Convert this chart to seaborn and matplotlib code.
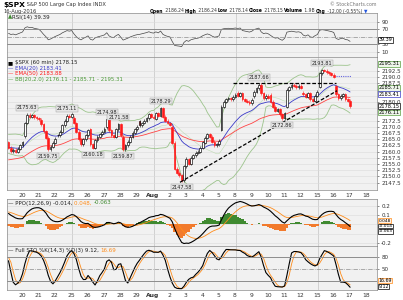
import numpy as np
import pandas as pd
import matplotlib
matplotlib.use("Agg")
import matplotlib.pyplot as plt
import matplotlib.transforms as mtransforms
import seaborn as sns

# 60 min bars, 7 per session. Jul 12-18 only warm up the indicators (left of view)
warmup_opens = [2139.5, 2153.8, 2157.2, 2165.1, 2162.0]
warmup_closes = [
    2145.0, 2148.0, 2150.0, 2151.0, 2152.0, 2153.0, 2152.1,
    2154.0, 2153.0, 2152.0, 2151.0, 2150.0, 2151.5, 2152.4,
    2160.0, 2162.0, 2163.0, 2162.5, 2163.0, 2164.0, 2163.8,
    2166.0, 2165.0, 2163.0, 2162.0, 2161.0, 2160.5, 2161.7,
    2161.0, 2160.0, 2162.0, 2164.0, 2165.0, 2166.0, 2166.9,
]

# visible sessions Jul 19 .. Aug 16
session_opens = [2163.79, 2166.10, 2172.91, 2166.47, 2173.71, 2168.97, 2169.81,
                 2166.05, 2172.15, 2173.15, 2169.94, 2156.81, 2163.51, 2168.79,
                 2183.76, 2182.24, 2182.81, 2177.97, 2183.74, 2186.08, 2186.24]
closes = [
    2161.5, 2160.2, 2160.8, 2160.0, 2161.2, 2162.5, 2163.8,  # Jul 19
    2171.5, 2174.8, 2174.0, 2174.6, 2173.8, 2173.4, 2173.0,  # Jul 20
    2171.0, 2168.2, 2165.5, 2161.0, 2162.0, 2163.5, 2165.2,  # Jul 21
    2166.5, 2168.0, 2170.5, 2172.5, 2174.5, 2174.0, 2175.0,  # Jul 22
    2171.5, 2168.0, 2165.0, 2163.0, 2165.0, 2166.5, 2168.5,  # Jul 25
    2163.0, 2161.5, 2164.5, 2166.0, 2167.0, 2168.0, 2169.2,  # Jul 26
    2173.0, 2168.5, 2166.5, 2166.0, 2169.0, 2171.0, 2166.6,  # Jul 27
    2161.0, 2162.5, 2164.0, 2166.0, 2167.5, 2169.0, 2170.0,  # Jul 28
    2170.5, 2171.5, 2172.5, 2173.5, 2175.0, 2174.0, 2173.6,  # Jul 29
    2175.5, 2174.5, 2177.5, 2174.0, 2172.5, 2171.5, 2170.8,  # Aug 1
    2163.5, 2153.0, 2151.5, 2150.5, 2148.5, 2154.0, 2157.0,  # Aug 2
    2155.0, 2157.5, 2158.5, 2159.5, 2160.0, 2161.5, 2163.8,  # Aug 3
    2165.5, 2167.0, 2166.0, 2164.0, 2162.5, 2163.0, 2164.3,  # Aug 4
    2178.0, 2180.0, 2181.0, 2181.5, 2181.0, 2182.0, 2182.9,  # Aug 5
    2182.5, 2183.5, 2181.0, 2180.5, 2180.0, 2179.5, 2180.9,  # Aug 8
    2184.0, 2185.5, 2187.0, 2183.5, 2181.5, 2182.5, 2181.7,  # Aug 9
    2180.0, 2178.0, 2176.5, 2177.0, 2175.0, 2173.5, 2175.5,  # Aug 10
    2185.0, 2186.0, 2187.0, 2186.5, 2186.0, 2186.5, 2185.8,  # Aug 11
    2183.0, 2182.0, 2183.5, 2181.0, 2180.5, 2182.5, 2184.0,  # Aug 12
    2191.5, 2192.8, 2192.5, 2192.0, 2191.5, 2191.0, 2190.2,  # Aug 15
    2183.0, 2181.5, 2182.5, 2183.0, 2181.0, 2180.5, 2178.2,  # Aug 16
]

date_ticks = ["20", "21", "22", "25", "26", "27", "28", "29", "Aug", "2", "3",
              "4", "5", "8", "9", "10", "11", "12", "15", "16", "17", "18"]
week_starts = [4, 9, 14, 19]  # sessions Jul 25, Aug 1, Aug 8, Aug 15

# swing high / low labels
note_bars = [8, 17, 25, 36, 42, 47, 49, 65, 74, 107, 117, 134]
note_text = ["2175.63", "2159.75", "2175.11", "2160.18", "2174.98", "2171.58",
             "2159.87", "2178.29", "2147.58", "2187.66", "2172.86", "2193.81"]
note_side = ["hi", "lo", "hi", "lo", "hi", "hi", "lo", "hi", "lo", "hi", "lo", "hi"]

# drawn lines
trend_x = [73.3, 140.4]
trend_y = [2147.6, 2184.5]
resist_x = [96, 140]
resist_y = [2187.66, 2187.66]
dotted_x = [140, 146.5]
dotted_y = [2190.3, 2190.3]

# last values as printed by the chart
spx_last = "2178.15"
ema20_last, ema50_last = "2183.41", "2183.88"
bb_last = ["2176.11", "2185.71", "2195.31"]
rsi_last = "39.39"
ppo_last = ["-0.014", "0.048", "-0.063"]
sto_last = ["9.12", "16.69"]

sns.set_style("white")
plt.rcParams["font.family"] = ["DejaVu Sans"]

RED = "#ff1a1a"
PANEL = "#f1f1f1"
GRID = "#dadada"
W, H = 403, 300

# assemble bars
n_warm = len(warmup_closes)
all_close = np.array(warmup_closes + closes)
day_open = warmup_opens + session_opens
opens = np.r_[all_close[0], all_close[:-1]].copy()
for d, o in enumerate(day_open):
    opens[d * 7] = o
highs = np.maximum(opens, all_close) + 0.6
lows = np.minimum(opens, all_close) - 0.6
xs = np.arange(len(all_close)) - n_warm

s = pd.Series(all_close)
ema20 = s.ewm(span=20, adjust=False).mean()
ema50 = s.ewm(span=50, adjust=False).mean()
bb_mid = s.rolling(20).mean()
bb_sd = s.rolling(20).std(ddof=0)
bb_up, bb_lo = bb_mid + 2 * bb_sd, bb_mid - 2 * bb_sd

delta = s.diff()
gain = delta.clip(lower=0).ewm(alpha=1 / 14, adjust=False).mean()
loss = (-delta.clip(upper=0)).ewm(alpha=1 / 14, adjust=False).mean()
rsi = 100 - 100 / (1 + gain / loss)

e12 = s.ewm(span=12, adjust=False).mean()
e26 = s.ewm(span=26, adjust=False).mean()
ppo = (e12 - e26) / e26 * 100
ppo_sig = ppo.ewm(span=9, adjust=False).mean()
ppo_hist = ppo - ppo_sig

hh = pd.Series(highs).rolling(14).max()
ll = pd.Series(lows).rolling(14).min()
fast_k = 100 * (s - ll) / (hh - ll)
full_k = fast_k.rolling(3).mean()
full_d = full_k.rolling(3).mean()

X0, X1 = -0.64, 157.5
tick_pos = [7 * (i + 1) - 1.2 for i in range(len(date_ticks))]

fig = plt.figure(figsize=(W / 100, H / 100), dpi=100)


def panel(top, bottom):
    return fig.add_axes([7 / W, 1 - bottom / H, 370 / W, (bottom - top) / H])


def style(ax, ylim, yticks, fmt, dates=False, grid_at=None):
    ax.set_facecolor(PANEL)
    ax.set_xlim(X0, X1)
    ax.set_ylim(*ylim)
    ax.yaxis.tick_right()
    ax.set_yticks(yticks)
    ax.set_yticklabels([fmt.format(v) for v in yticks])
    ax.tick_params(axis="y", length=1.5, width=0.4, pad=1.5, labelsize=4.1,
                   colors="#333333")
    ax.set_xticks(tick_pos)
    ax.set_xticklabels(date_ticks if dates else [])
    ax.tick_params(axis="x", length=0, pad=2.2, labelsize=4.3, colors="#333333")
    if dates:
        for lab in ax.get_xticklabels():
            if lab.get_text() == "Aug":
                lab.set_fontweight("bold")
    for g in (grid_at if grid_at is not None else yticks):
        ax.axhline(g, color=GRID, lw=0.4, zorder=0.6)
    for w in week_starts:
        ax.axvline(7 * w - 0.8, color="#c4c4c4", lw=0.5, zorder=0.5)
    for sp in ax.spines.values():
        sp.set_linewidth(0.5)
        sp.set_color("#8a8a8a")
    ax.set_xlabel("")
    ax.set_ylabel("")


def value_box(ax, y, txt, ec, fc="white", tc="black", size=3.7):
    tr = mtransforms.blended_transform_factory(ax.transAxes, ax.transData)
    ax.text(1.004, y, txt, transform=tr, fontsize=size, color=tc, va="center",
            ha="left", clip_on=False, zorder=10,
            bbox=dict(boxstyle="square,pad=0.06", fc=fc, ec=ec, lw=0.5))


renderer = fig.canvas.get_renderer()


def chain(x, y, pieces, size):
    for txt, color, weight, *fs in pieces:
        t = fig.text(x / W, 1 - y / H, txt, fontsize=fs[0] if fs else size,
                     color=color, fontweight=weight, va="center", ha="left")
        x += t.get_window_extent(renderer).width


vis = xs >= 0

# ---- RSI panel
ax_rsi = panel(13, 57)
sns.lineplot(x=xs[vis], y=rsi[vis].values, ax=ax_rsi, color="#444444", lw=0.5)
style(ax_rsi, (-4, 113), [10, 30, 70, 90], "{:.0f}", grid_at=[10, 90])
ax_rsi.axhline(70, color="#8c8c8c", lw=0.7)
ax_rsi.axhline(30, color="#8c8c8c", lw=0.7)
ax_rsi.axhline(50, color="#8c8c8c", lw=0.5, ls="-.")
value_box(ax_rsi, 41.5, rsi_last, "black", size=3.5)

# ---- price panel
ax = panel(57, 190)
o, c = opens[vis], all_close[vis]
prev = np.r_[all_close[n_warm - 1], c[:-1]]
edge = np.where(c >= prev, "black", RED)
fill = np.where(c >= o, "white", RED)
ax.vlines(xs[vis], lows[vis], highs[vis], colors=edge, lw=0.4, zorder=3)
ax.bar(xs[vis], np.maximum(np.abs(c - o), 0.25), bottom=np.minimum(o, c),
       width=0.75, color=fill, edgecolor=edge, linewidth=0.45, zorder=4)
sns.lineplot(x=xs[vis], y=bb_up[vis].values, ax=ax, color="#9cc48c", lw=0.6)
sns.lineplot(x=xs[vis], y=bb_lo[vis].values, ax=ax, color="#9cc48c", lw=0.6)
sns.lineplot(x=xs[vis], y=bb_mid[vis].values, ax=ax, color="#c0dcb4", lw=0.4)
sns.lineplot(x=xs[vis], y=ema50[vis].values, ax=ax, color="#ff4444", lw=0.6)
sns.lineplot(x=xs[vis], y=ema20[vis].values, ax=ax, color="#3a3ac8", lw=0.6)
ax.plot(trend_x, trend_y, color="black", lw=0.9, ls=(0, (3, 1.5)), zorder=5)
ax.plot(resist_x, resist_y, color="black", lw=0.9, ls=(0, (3, 1.5)), zorder=5)
ax.plot(dotted_x, dotted_y, color="#6666dd", lw=0.8, ls=(0, (1, 1)), zorder=5)
box_vals = [float(v) for v in bb_last + [ema20_last, spx_last]]
price_grid = list(np.arange(2147.5, 2195, 2.5))
price_ticks = [t for t in price_grid if min(abs(t - b) for b in box_vals) > 1.5]
style(ax, (2144.5, 2198.1), price_ticks, "{:.1f}", dates=True, grid_at=price_grid)
for b, txt, side in zip(note_bars, note_text, note_side):
    i = b + n_warm
    hi = side == "hi"
    ax.annotate(txt, (b, highs[i] if hi else lows[i]),
                xytext=(0, 2.2 if hi else -2.2), textcoords="offset points",
                ha="center", va="bottom" if hi else "top", fontsize=3.6,
                color="#222222", zorder=8,
                bbox=dict(boxstyle="square,pad=0.15", fc="#e6e6e6",
                          ec="#9a9a9a", lw=0.3))
value_box(ax, float(bb_last[2]), bb_last[2], "#5aa040", fc="#eef6ea")
value_box(ax, float(bb_last[1]), bb_last[1], "#5aa040", fc="#eef6ea")
value_box(ax, float(ema20_last) - 0.3, ema20_last, "#3a3ac8")
value_box(ax, float(bb_last[0]) - 0.3, bb_last[0], "#5aa040", fc="#eef6ea")
value_box(ax, float(spx_last) + 0.2, spx_last, "black")

# ---- PPO panel
ax_ppo = panel(199, 246)
hv = ppo_hist[vis].values
ax_ppo.bar(xs[vis], hv, width=1.0, color=np.where(hv >= 0, "#3f8a30", "#f27a2c"),
           linewidth=0, zorder=2)
sns.lineplot(x=xs[vis], y=ppo_sig[vis].values, ax=ax_ppo, color="#ff8c1a", lw=0.6)
sns.lineplot(x=xs[vis], y=ppo[vis].values, ax=ax_ppo, color="black", lw=0.8)
style(ax_ppo, (-0.233, 0.272), [-0.2, 0.1, 0.2], "{:.1f}",
      grid_at=[-0.2, -0.1, 0.0, 0.1, 0.2])
value_box(ax_ppo, 0.040, ppo_last[1], "#ff8c1a", fc="#fff1e4", size=3.2)
value_box(ax_ppo, -0.018, ppo_last[0], "black", size=3.2)
value_box(ax_ppo, -0.076, ppo_last[2], "black", size=3.2)

# ---- Full STO panel
ax_sto = panel(246, 290)
sns.lineplot(x=xs[vis], y=full_d[vis].values, ax=ax_sto, color="#ff8c1a", lw=0.6)
sns.lineplot(x=xs[vis], y=full_k[vis].values, ax=ax_sto, color="black", lw=0.8)
style(ax_sto, (-1.2, 106), [50, 80], "{:.0f}", dates=True, grid_at=[])
ax_sto.axhline(80, color="#8c8c8c", lw=0.7)
ax_sto.axhline(20, color="#8c8c8c", lw=0.7)
ax_sto.axhline(50, color="#8c8c8c", lw=0.5, ls="-.")
value_box(ax_sto, 21.5, sto_last[1], "#ff8c1a", fc="#fff1e4", size=3.4)
value_box(ax_sto, 7.5, sto_last[0], "black", size=3.4)

# ---- texts
chain(3, 4.5, [(r"\$SPX", "black", "bold", 5.4),
               (" S&P 500 Large Cap Index INDX", "#333333", "normal", 3.7)], 3.7)
fig.text(3 / W, 1 - 11 / H, "16-Aug-2016", fontsize=3.7, color="#333333",
         va="center")
fig.text(377 / W, 1 - 4 / H, "© StockCharts.com", fontsize=3.4,
         color="#777777", va="center", ha="right")
chain(150, 11, [("Open", "black", "bold"), (" 2186.24 ", "#333333", "normal"),
                ("High", "black", "bold"), (" 2186.24 ", "#333333", "normal"),
                ("Low", "black", "bold"), (" 2178.14 ", "#333333", "normal"),
                ("Close", "black", "bold"), (" 2178.15 ", "#333333", "normal"),
                ("Volume", "black", "bold"), (" 1.9B ", "#333333", "normal"),
                ("Chg", "black", "bold"), (" -12.00 (-0.55%) ", "#333333", "normal"),
                ("▼", "#2255dd", "normal")], 3.25)
chain(8, 17, [("▲", "#3f8a30", "normal"), ("RSI(14) " + rsi_last, "#222222", "normal")], 4.0)
chain(8, 62.5, [("■ ", "black", "normal"), (r"\$SPX (60 min) " + spx_last, "#222222", "normal")], 3.9)
chain(8, 68.3, [("— EMA(20) " + ema20_last, "#3a3ac8", "normal")], 3.9)
chain(8, 73.8, [("— EMA(50) " + ema50_last, RED, "normal")], 3.9)
chain(8, 79.3, [("— BB(20,2.0) " + " - ".join(bb_last), "#4c9a38", "normal")], 3.9)
chain(8, 203, [("— PPO(12,26,9) " + ppo_last[0] + ", ", "#222222", "normal"),
               (ppo_last[1] + ", ", "#ff8c1a", "normal"),
               (ppo_last[2], "#3f8a30", "normal")], 4.0)
chain(8, 250.5, [("— Full STO %K(14,3) %D(3) " + sto_last[0] + ", ", "#222222", "normal"),
                 (sto_last[1], "#ff8c1a", "normal")], 4.0)

fig.savefig("out.png", dpi=100)
